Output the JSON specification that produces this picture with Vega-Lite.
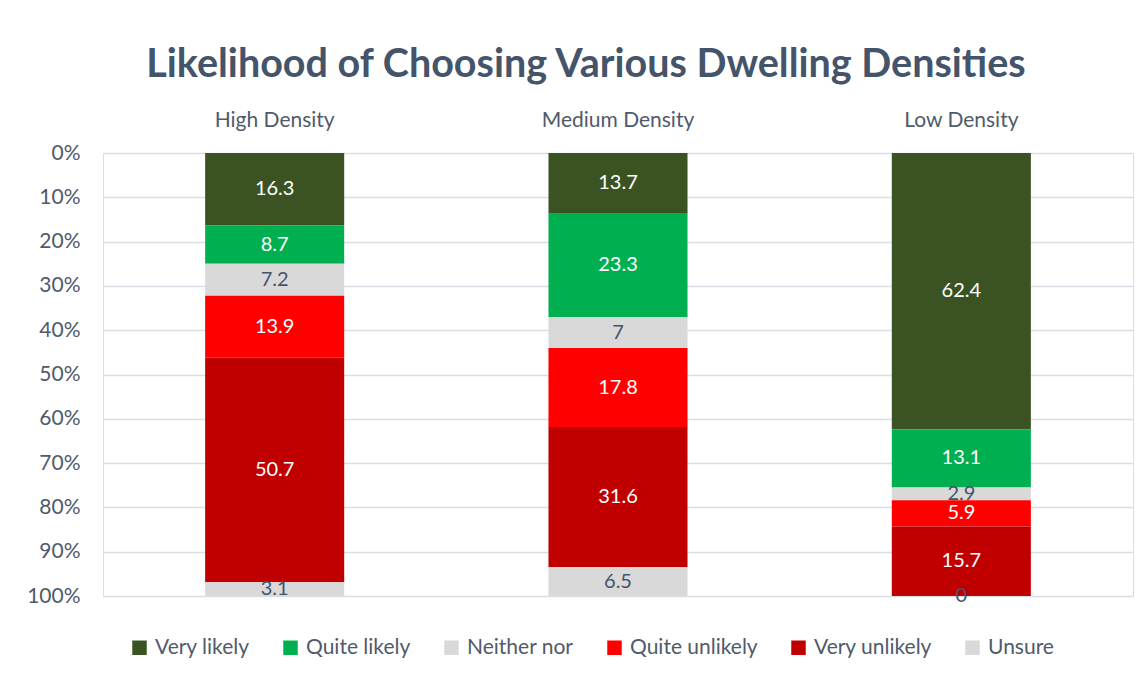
{
  "$schema": "https://vega.github.io/schema/vega-lite/v6.json",
  "width": 1030,
  "height": 443,
  "autosize": {"type": "none"},
  "padding": {"left": 103, "top": 153, "right": 13, "bottom": 84},
  "background": "white",
  "title": {
    "text": "Likelihood of Choosing Various Dwelling Densities",
    "font": "Lato",
    "fontSize": 39.5,
    "fontWeight": "bold",
    "color": "#44546A",
    "anchor": "middle",
    "dx": -32,
    "offset": 24
  },
  "data": {
    "values": [
      {"cat": "High Density", "resp": "Very likely", "value": 16.3, "ord": 1},
      {"cat": "High Density", "resp": "Quite likely", "value": 8.7, "ord": 2},
      {"cat": "High Density", "resp": "Neither nor", "value": 7.2, "ord": 3},
      {"cat": "High Density", "resp": "Quite unlikely", "value": 13.9, "ord": 4},
      {"cat": "High Density", "resp": "Very unlikely", "value": 50.7, "ord": 5},
      {"cat": "High Density", "resp": "Unsure", "value": 3.1, "ord": 6},
      {"cat": "Medium Density", "resp": "Very likely", "value": 13.7, "ord": 1},
      {"cat": "Medium Density", "resp": "Quite likely", "value": 23.3, "ord": 2},
      {"cat": "Medium Density", "resp": "Neither nor", "value": 7, "ord": 3},
      {"cat": "Medium Density", "resp": "Quite unlikely", "value": 17.8, "ord": 4},
      {"cat": "Medium Density", "resp": "Very unlikely", "value": 31.6, "ord": 5},
      {"cat": "Medium Density", "resp": "Unsure", "value": 6.5, "ord": 6},
      {"cat": "Low Density", "resp": "Very likely", "value": 62.4, "ord": 1},
      {"cat": "Low Density", "resp": "Quite likely", "value": 13.1, "ord": 2},
      {"cat": "Low Density", "resp": "Neither nor", "value": 2.9, "ord": 3},
      {"cat": "Low Density", "resp": "Quite unlikely", "value": 5.9, "ord": 4},
      {"cat": "Low Density", "resp": "Very unlikely", "value": 15.7, "ord": 5},
      {"cat": "Low Density", "resp": "Unsure", "value": 0, "ord": 6}
    ]
  },
  "transform": [
    {"stack": "value", "groupby": ["cat"], "sort": [{"field": "ord", "order": "ascending"}], "as": ["v0", "v1"], "offset": "normalize"},
    {"calculate": "(datum.v0 + datum.v1) / 2", "as": "mid"}
  ],
  "encoding": {
    "x": {
      "field": "cat",
      "type": "nominal",
      "sort": ["High Density", "Medium Density", "Low Density"],
      "scale": {"paddingInner": 0.595, "paddingOuter": 0.2975},
      "axis": {
        "orient": "top",
        "title": null,
        "labelAngle": 0,
        "domain": false,
        "ticks": false,
        "labelPadding": 23,
        "labelFont": "Lato",
        "labelFontSize": 21,
        "labelColor": "#505A6A"
      }
    }
  },
  "layer": [
    {
      "mark": {"type": "bar"},
      "encoding": {
        "y": {
          "field": "v0",
          "type": "quantitative",
          "scale": {"domain": [0, 1], "reverse": true, "nice": false},
          "axis": {
            "title": null,
            "format": ".0%",
            "values": [0, 0.1, 0.2, 0.3, 0.4, 0.5, 0.6, 0.7, 0.8, 0.9, 1],
            "domain": false,
            "ticks": false,
            "tickSize": 0,
            "labelPadding": 23,
            "labelFont": "Lato",
            "labelFontSize": 21,
            "labelColor": "#505A6A",
            "gridColor": "#D9DEE6",
            "gridWidth": 1.5
          }
        },
        "y2": {"field": "v1"},
        "color": {
          "field": "resp",
          "type": "nominal",
          "scale": {
            "domain": ["Very likely", "Quite likely", "Neither nor", "Quite unlikely", "Very unlikely", "Unsure"],
            "range": ["#3B5323", "#00B050", "#D9D9D9", "#FF0000", "#C00000", "#D9D9D9"]
          },
          "legend": {
            "orient": "none",
            "legendX": 26,
            "legendY": 484,
            "direction": "horizontal",
            "title": null,
            "symbolType": "square",
            "symbolSize": 210,
            "symbolStrokeWidth": 0,
            "labelFont": "Lato",
            "labelFontSize": 21,
            "labelColor": "#505A6A",
            "labelOffset": 5,
            "columnPadding": 30
          }
        }
      }
    },
    {
      "mark": {"type": "text", "font": "Lato", "fontSize": 20, "baseline": "middle", "align": "center"},
      "encoding": {
        "y": {"field": "mid", "type": "quantitative"},
        "text": {"field": "value", "type": "quantitative"},
        "color": {
          "condition": {"test": "datum.resp === 'Neither nor' || datum.resp === 'Unsure'", "value": "#44546A"},
          "value": "white"
        }
      }
    }
  ]
}
